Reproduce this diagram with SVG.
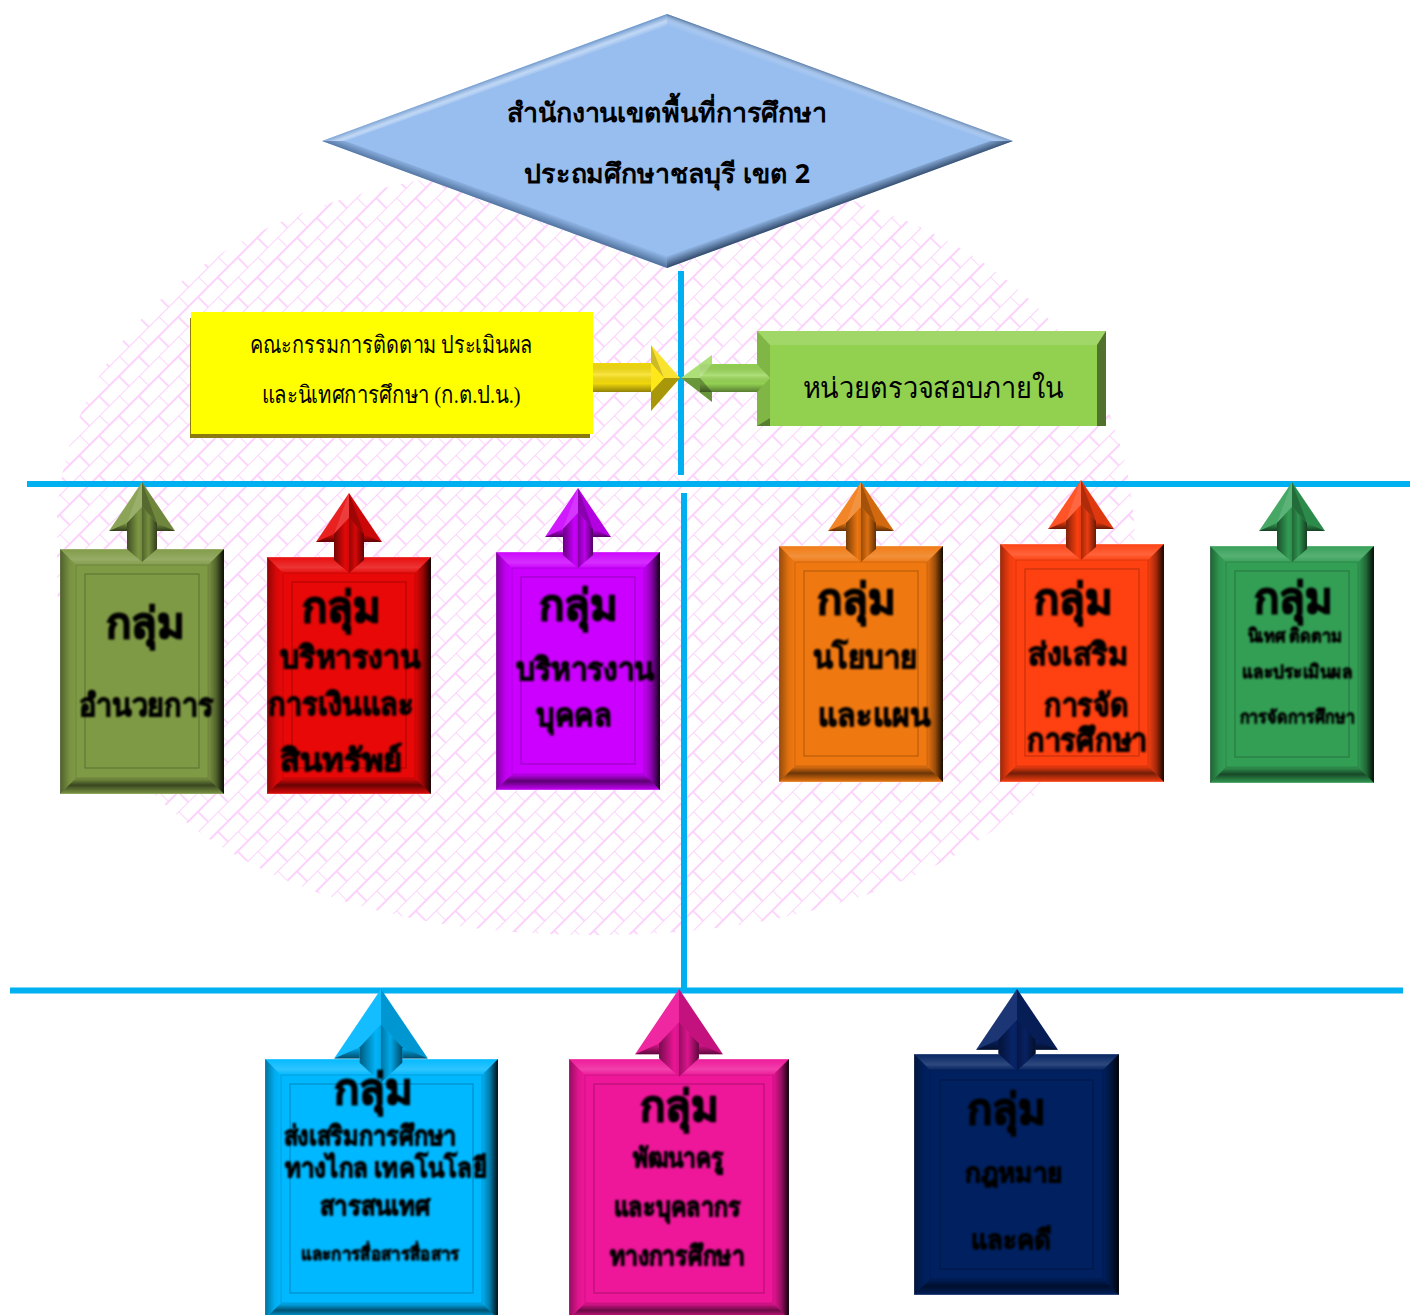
<svg xmlns="http://www.w3.org/2000/svg" width="1410" height="1315" viewBox="0 0 1410 1315">
<style>
text{text-anchor:middle;fill:#000;font-family:"Noto Sans","DejaVu Sans",sans-serif}
.b{font-weight:700}
.s{font-family:"Liberation Serif","DejaVu Serif",serif}
.t{font-weight:700;font-size:42px;filter:url(#bl);stroke:#000;stroke-width:1.5}
.x{font-weight:700;font-size:31px;filter:url(#bl);stroke:#000;stroke-width:1}
.y{font-weight:700;font-size:27px;filter:url(#bl);stroke:#000;stroke-width:1}
.z{font-weight:700;font-size:18px;filter:url(#bl);stroke:#000;stroke-width:.7}
.line{stroke:#00B0F0;stroke-width:6;fill:none}
.top{fill:url(#gT)}.lef{fill:url(#gL)}.rig{fill:url(#gR)}.bot{fill:url(#gB)}
.in1{fill:none;stroke:#000;stroke-opacity:.14}
.in2{fill:none;stroke:#000;stroke-opacity:.28}
.edge{stroke:#fff;stroke-opacity:.35;stroke-width:1}
</style>
<defs>
<filter id="bl" x="-5%" y="-10%" width="110%" height="120%"><feGaussianBlur stdDeviation="0.9"/></filter>
<linearGradient id="gT" x1="0" y1="0" x2="0" y2="1"><stop offset="0" stop-color="#fff" stop-opacity=".02"/><stop offset=".65" stop-color="#fff" stop-opacity=".18"/><stop offset="1" stop-color="#fff" stop-opacity=".02"/></linearGradient>
<linearGradient id="gL" x1="0" y1="0" x2="1" y2="0"><stop offset="0" stop-color="#000" stop-opacity=".38"/><stop offset=".6" stop-color="#000" stop-opacity=".06"/><stop offset="1" stop-color="#000" stop-opacity="0"/></linearGradient>
<linearGradient id="gR" x1="0" y1="0" x2="1" y2="0"><stop offset="0" stop-color="#000" stop-opacity=".03"/><stop offset=".5" stop-color="#000" stop-opacity=".35"/><stop offset="1" stop-color="#000" stop-opacity=".92"/></linearGradient>
<linearGradient id="gB" x1="0" y1="0" x2="0" y2="1"><stop offset="0" stop-color="#000" stop-opacity=".04"/><stop offset=".45" stop-color="#000" stop-opacity=".55"/><stop offset="1" stop-color="#000" stop-opacity=".02"/></linearGradient>
<linearGradient id="gS" x1="0" y1="0" x2="1" y2="0"><stop offset="0" stop-color="#000" stop-opacity=".5"/><stop offset=".38" stop-color="#000" stop-opacity=".02"/><stop offset=".5" stop-color="#000" stop-opacity=".1"/><stop offset=".51" stop-color="#000" stop-opacity=".35"/><stop offset=".72" stop-color="#000" stop-opacity=".08"/><stop offset="1" stop-color="#000" stop-opacity=".6"/></linearGradient>
<linearGradient id="gH" x1="0" y1="0" x2="0" y2="1"><stop offset="0" stop-color="#000" stop-opacity=".04"/><stop offset=".4" stop-color="#fff" stop-opacity=".22"/><stop offset=".7" stop-color="#000" stop-opacity=".03"/><stop offset="1" stop-color="#000" stop-opacity=".42"/></linearGradient>
<linearGradient id="gD" x1="0" y1="0" x2="0" y2="1"><stop offset="0" stop-color="#000" stop-opacity=".05"/><stop offset="1" stop-color="#000" stop-opacity=".6"/></linearGradient>
<linearGradient id="dTL" gradientUnits="userSpaceOnUse" x1="494" y1="77" x2="498" y2="88"><stop offset="0" stop-color="#3C6CA5" stop-opacity=".5"/><stop offset=".55" stop-color="#fff" stop-opacity=".4"/><stop offset="1" stop-color="#fff" stop-opacity="0"/></linearGradient>
<linearGradient id="dTR" gradientUnits="userSpaceOnUse" x1="840" y1="77" x2="836" y2="88"><stop offset="0" stop-color="#34547C" stop-opacity=".65"/><stop offset=".6" stop-color="#fff" stop-opacity=".12"/><stop offset="1" stop-color="#fff" stop-opacity="0"/></linearGradient>
<linearGradient id="dBL" gradientUnits="userSpaceOnUse" x1="494" y1="205" x2="498" y2="194"><stop offset="0" stop-color="#2F4F78" stop-opacity=".7"/><stop offset="1" stop-color="#2F4F78" stop-opacity="0"/></linearGradient>
<linearGradient id="dBR" gradientUnits="userSpaceOnUse" x1="840" y1="205" x2="836" y2="194"><stop offset="0" stop-color="#1F3552" stop-opacity=".85"/><stop offset="1" stop-color="#1F3552" stop-opacity="0"/></linearGradient>
<pattern id="brick" width="28" height="28" patternUnits="userSpaceOnUse" patternTransform="rotate(-45)">
<path d="M0 0H28M0 14H28M0 0V14M14 14V28" stroke="#FCD2FC" stroke-width="1.8" fill="none"/>
</pattern>
<g id="arrow">
<polygon points="0,0 33,49 -33,49"/>
<polygon points="0,0 -33,49 -15,41 0,25" fill="#fff" fill-opacity=".1"/>
<polygon points="0,0 0,25 -15,41" fill="#fff" fill-opacity=".12"/>
<polygon points="0,0 33,49 15,41 0,25" fill="#000" fill-opacity=".12"/>
<polygon points="0,0 0,25 15,41" fill="#000" fill-opacity=".22"/>
<polygon points="-33,49 -15,41 -15,49" fill="url(#gD)"/>
<polygon points="33,49 15,41 15,49" fill="url(#gD)"/>
<polygon points="-15,49 -15,67 0,80 15,67 15,49 15,41 0,25 -15,41"/>
<polygon points="-15,49 -15,67 0,80 15,67 15,49 15,41 0,25 -15,41" fill="url(#gS)"/>
</g>
<g id="arrowB">
<polygon points="0,0 33,49 -33,49"/>
<polygon points="0,0 -33,49 -15,41 0,25" fill="#fff" fill-opacity=".08"/>
<polygon points="0,0 33,49 15,41 0,25" fill="#000" fill-opacity=".18"/>
<polygon points="-33,49 -15,41 -15,49" fill="url(#gD)"/>
<polygon points="33,49 15,41 15,49" fill="url(#gD)"/>
<polygon points="-15,49 -15,52 0,66 15,52 15,49 15,41 0,25 -15,41"/>
<polygon points="-15,49 -15,52 0,66 15,52 15,49 15,41 0,25 -15,41" fill="url(#gS)"/>
</g>
<clipPath id="ec"><path d="M55 550C55 311 260 165 595 165C930 165 1135 311 1135 550C1135 789 930 935 595 935C260 935 55 789 55 550Z"/></clipPath>
</defs>

<g id="background"><rect x="57" y="150" width="1080" height="790" fill="url(#brick)" clip-path="url(#ec)"/></g>

<g id="top-node">
<polygon points="667,14 1013,141 667,268 322,141" fill="#98BEEF"/>
<polygon points="667,14 322,141 345,141 667,26" fill="url(#dTL)"/>
<polygon points="667,14 1013,141 990,141 667,26" fill="url(#dTR)"/>
<polygon points="322,141 667,268 667,256 345,141" fill="url(#dBL)"/>
<polygon points="1013,141 667,268 667,256 990,141" fill="url(#dBR)"/>
<text class="b" x="667" y="122" font-size="27" textLength="320" lengthAdjust="spacingAndGlyphs">สำนักงานเขตพื้นที่การศึกษา</text>
<text class="b" x="667" y="183" font-size="27" textLength="286" lengthAdjust="spacingAndGlyphs">ประถมศึกษาชลบุรี เขต 2</text>
</g>

<g id="committee">
<rect x="190" y="318" width="400" height="120" fill="#8A7A10"/>
<rect x="191" y="312" width="402" height="122" fill="#FFFF00"/>
<text class="s" x="391" y="353" font-size="24" textLength="283" lengthAdjust="spacingAndGlyphs">คณะกรรมการติดตาม ประเมินผล</text>
<text class="s" x="391" y="403" font-size="24" textLength="259" lengthAdjust="spacingAndGlyphs">และนิเทศการศึกษา (ก.ต.ป.น.)</text>
</g>

<g id="audit">
<rect x="757" y="331" width="349" height="95" fill="#92D050"/>
<polygon points="757,331 1106,331 1097,345 770,345" fill="#fff" fill-opacity=".14"/>
<polygon points="757,331 770,345 770,418 757,426" fill="#000" fill-opacity=".12"/>
<polygon points="757,426 770,418 770,426" fill="#000" fill-opacity=".4"/>
<polygon points="1106,331 1097,345 1097,426 1106,426" fill="#000" fill-opacity=".45"/>
<text class="s" x="933" y="398" font-size="29" textLength="261" lengthAdjust="spacingAndGlyphs">หน่วยตรวจสอบภายใน</text>
</g>

<g id="box1">
<rect x="60" y="549" width="164" height="245" fill="#7F9A45" class="edge"/>
<polygon class="top" points="60,549 224,549 208,565 76,565"/><polygon class="lef" points="60,549 76,565 76,778 60,794"/><polygon class="rig" points="224,549 208,565 208,778 224,794"/><polygon class="bot" points="60,794 76,778 208,778 224,794"/>
<rect class="in1" x="76" y="565" width="132" height="213"/><rect class="in2" x="85" y="574" width="114" height="194"/>
<text class="t" x="145" y="638">กลุ่ม</text><text class="x" x="146" y="716" textLength="135" lengthAdjust="spacingAndGlyphs">อำนวยการ</text>
</g>

<g id="box2">
<rect x="267" y="557" width="164" height="237" fill="#E80808" class="edge"/>
<polygon class="top" points="267,557 431,557 415,573 283,573"/><polygon class="lef" points="267,557 283,573 283,778 267,794"/><polygon class="rig" points="431,557 415,573 415,778 431,794"/><polygon class="bot" points="267,794 283,778 415,778 431,794"/>
<rect class="in1" x="283" y="573" width="132" height="205"/><rect class="in2" x="292" y="582" width="114" height="186"/>
<text class="t" x="341" y="622">กลุ่ม</text><text class="x" x="350" y="668" textLength="140" lengthAdjust="spacingAndGlyphs">บริหารงาน</text><text class="x" x="341" y="715" textLength="146" lengthAdjust="spacingAndGlyphs">การเงินและ</text><text class="x" x="341" y="771" textLength="122" lengthAdjust="spacingAndGlyphs">สินทรัพย์</text>
</g>

<g id="box3">
<rect x="496" y="552" width="164" height="238" fill="#CC00FF" class="edge"/>
<polygon class="top" points="496,552 660,552 644,568 512,568"/><polygon class="lef" points="496,552 512,568 512,774 496,790"/><polygon class="rig" points="660,552 644,568 644,774 660,790"/><polygon class="bot" points="496,790 512,774 644,774 660,790"/>
<rect class="in1" x="512" y="568" width="132" height="206"/><rect class="in2" x="521" y="577" width="114" height="187"/>
<text class="t" x="578" y="620">กลุ่ม</text><text class="x" x="585" y="680" textLength="139" lengthAdjust="spacingAndGlyphs">บริหารงาน</text><text class="x" x="574" y="726" textLength="76" lengthAdjust="spacingAndGlyphs">บุคคล</text>
</g>

<g id="box4">
<rect x="779" y="546" width="164" height="236" fill="#F07810" class="edge"/>
<polygon class="top" points="779,546 943,546 927,562 795,562"/><polygon class="lef" points="779,546 795,562 795,766 779,782"/><polygon class="rig" points="943,546 927,562 927,766 943,782"/><polygon class="bot" points="779,782 795,766 927,766 943,782"/>
<rect class="in1" x="795" y="562" width="132" height="204"/><rect class="in2" x="804" y="571" width="114" height="185"/>
<text class="t" x="856" y="614">กลุ่ม</text><text class="x" x="865" y="668" textLength="105" lengthAdjust="spacingAndGlyphs">นโยบาย</text><text class="x" x="874" y="726" textLength="112" lengthAdjust="spacingAndGlyphs">และแผน</text>
</g>

<g id="box5">
<rect x="1000" y="544" width="164" height="238" fill="#FF4010" class="edge"/>
<polygon class="top" points="1000,544 1164,544 1148,560 1016,560"/><polygon class="lef" points="1000,544 1016,560 1016,766 1000,782"/><polygon class="rig" points="1164,544 1148,560 1148,766 1164,782"/><polygon class="bot" points="1000,782 1016,766 1148,766 1164,782"/>
<rect class="in1" x="1016" y="560" width="132" height="206"/><rect class="in2" x="1025" y="569" width="114" height="187"/>
<text class="t" x="1073" y="614">กลุ่ม</text><text class="x" x="1078" y="665" textLength="100" lengthAdjust="spacingAndGlyphs">ส่งเสริม</text><text class="x" x="1086" y="716" textLength="84" lengthAdjust="spacingAndGlyphs">การจัด</text><text class="x" x="1087" y="751" textLength="120" lengthAdjust="spacingAndGlyphs">การศึกษา</text>
</g>

<g id="box6">
<rect x="1210" y="546" width="164" height="237" fill="#339F55" class="edge"/>
<polygon class="top" points="1210,546 1374,546 1358,562 1226,562"/><polygon class="lef" points="1210,546 1226,562 1226,767 1210,783"/><polygon class="rig" points="1374,546 1358,562 1358,767 1374,783"/><polygon class="bot" points="1210,783 1226,767 1358,767 1374,783"/>
<rect class="in1" x="1226" y="562" width="132" height="205"/><rect class="in2" x="1235" y="571" width="114" height="186"/>
<text class="t" x="1293" y="613">กลุ่ม</text><text class="z" x="1295" y="642" textLength="95" lengthAdjust="spacingAndGlyphs">นิเทศ ติดตาม</text><text class="z" x="1297" y="678" textLength="110" lengthAdjust="spacingAndGlyphs">และประเมินผล</text><text class="z" x="1297" y="723" textLength="115" lengthAdjust="spacingAndGlyphs">การจัดการศึกษา</text>
</g>

<g id="box7">
<rect x="265" y="1059" width="233" height="260" fill="#00B8FF" class="edge"/>
<polygon class="top" points="265,1059 498,1059 482,1075 281,1075"/><polygon class="lef" points="265,1059 281,1075 281,1303 265,1319"/><polygon class="rig" points="498,1059 482,1075 482,1303 498,1319"/><polygon class="bot" points="265,1319 281,1303 482,1303 498,1319"/>
<rect class="in1" x="281" y="1075" width="201" height="228"/><rect class="in2" x="290" y="1084" width="183" height="209"/>
</g>

<g id="box8">
<rect x="569" y="1059" width="220" height="260" fill="#EE1699" class="edge"/>
<polygon class="top" points="569,1059 789,1059 773,1075 585,1075"/><polygon class="lef" points="569,1059 585,1075 585,1303 569,1319"/><polygon class="rig" points="789,1059 773,1075 773,1303 789,1319"/><polygon class="bot" points="569,1319 585,1303 773,1303 789,1319"/>
<rect class="in1" x="585" y="1075" width="188" height="228"/><rect class="in2" x="594" y="1084" width="170" height="209"/>
</g>

<g id="box9">
<rect x="914" y="1054" width="205" height="241" fill="#002060" class="edge"/>
<polygon class="top" points="914,1054 1119,1054 1103,1070 930,1070"/><polygon class="lef" points="914,1054 930,1070 930,1279 914,1295"/><polygon class="rig" points="1119,1054 1103,1070 1103,1279 1119,1295"/><polygon class="bot" points="914,1295 930,1279 1103,1279 1119,1295"/>
<rect class="in1" x="930" y="1070" width="173" height="209"/><rect class="in2" x="940" y="1080" width="153" height="189"/>
</g>

<g id="connectors">
<path class="line" d="M27 484H1410M10 990.500H1403M681 271V475M684 493V990"/>
<g id="a-yellow">
<polygon points="593,363 651,363 651,345 680,378 651,411 651,392 593,392" fill="#F8DF0C"/>
<rect x="593" y="363" width="58" height="29" fill="url(#gH)"/>
<polygon points="651,345 680,378 664,378 651,363" fill="#fff" fill-opacity=".15"/>
<polygon points="651,345 664,378 651,363" fill="#000" fill-opacity=".18"/>
<polygon points="651,411 680,378 664,378 651,392" fill="#000" fill-opacity=".32"/>
<polygon points="651,363 664,378 651,392" fill="#FFE81A"/>
</g>
<g id="a-green">
<polygon points="770,378 757,364 712,364 712,355 681,378 712,402 712,392 757,392" fill="#98D755"/>
<polygon points="770,378 757,364 700,364 700,392 757,392" fill="url(#gH)"/>
<polygon points="712,355 681,378 700,378 712,364" fill="#fff" fill-opacity=".2"/>
<polygon points="712,402 681,378 700,378 712,392" fill="#000" fill-opacity=".3"/>
</g>
<use href="#arrow" x="142" y="482" fill="#7F9A45"/>
<use href="#arrow" x="349" y="493" fill="#E80808"/>
<use href="#arrow" x="578" y="488" fill="#CC00FF"/>
<use href="#arrow" x="861" y="482" fill="#F07810"/>
<use href="#arrow" x="1081" y="480" fill="#FF4010"/>
<use href="#arrow" x="1292" y="482" fill="#339F55"/>
<use href="#arrowB" transform="translate(381 989) scale(1.42)" fill="#00B8FF"/>
<use href="#arrowB" transform="translate(679 989) scale(1.33)" fill="#EE1699"/>
<use href="#arrowB" transform="translate(1017 989) scale(1.24)" fill="#08246A"/>
</g>

<g id="box-labels">
<text class="t" x="373" y="1104">กลุ่ม</text><text class="y" x="370" y="1145" textLength="173" lengthAdjust="spacingAndGlyphs">ส่งเสริมการศึกษา</text><text class="y" x="386" y="1177" textLength="202" lengthAdjust="spacingAndGlyphs">ทางไกล เทคโนโลยี</text><text class="y" x="375" y="1215" textLength="110" lengthAdjust="spacingAndGlyphs">สารสนเทศ</text><text class="z" x="380" y="1260" textLength="159" lengthAdjust="spacingAndGlyphs">และการสื่อสารสื่อสาร</text>
<text class="t" x="679" y="1121">กลุ่ม</text><text class="y" x="678" y="1167" textLength="91" lengthAdjust="spacingAndGlyphs">พัฒนาครู</text><text class="y" x="677" y="1216" textLength="127" lengthAdjust="spacingAndGlyphs">และบุคลากร</text><text class="y" x="677" y="1265" textLength="135" lengthAdjust="spacingAndGlyphs">ทางการศึกษา</text>
<text class="t" x="1006" y="1124">กลุ่ม</text><text class="y" x="1014" y="1182" textLength="98" lengthAdjust="spacingAndGlyphs">กฎหมาย</text><text class="y" x="1011" y="1249" textLength="81" lengthAdjust="spacingAndGlyphs">และคดี</text>
</g>
</svg>
